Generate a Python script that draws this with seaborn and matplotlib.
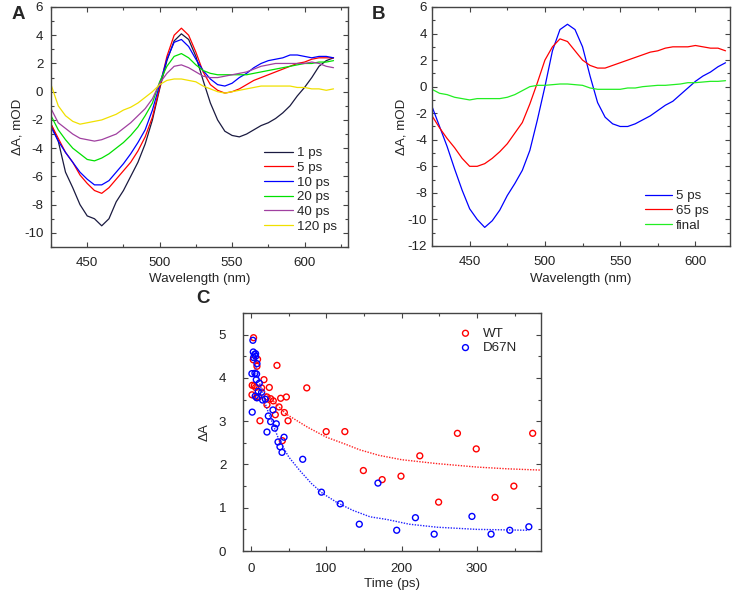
import matplotlib
matplotlib.use('Agg')
import matplotlib.pyplot as plt
from matplotlib.ticker import MultipleLocator
import numpy as np
import seaborn as sns

# wavelength grid (nm)
wl = np.arange(425, 621, 5)

# panel A spectra (mOD)
a_1ps = [-2.3, -3.5, -5.7, -6.8, -8.0, -8.8, -9.0, -9.5, -9.0, -7.8, -7.0, -6.0, -5.0, -3.7, -2.0,
         0.2, 2.2, 3.6, 4.1, 3.7, 2.5, 0.8, -0.8, -2.0, -2.8, -3.1, -3.2, -3.0, -2.7, -2.4,
         -2.2, -1.9, -1.5, -1.0, -0.3, 0.3, 1.0, 1.8, 2.2, 2.4]
a_5ps = [-2.3, -3.3, -4.3, -5.0, -5.9, -6.5, -7.0, -7.2, -6.8, -6.2, -5.6, -5.0, -4.2, -3.2, -1.8,
         0.3, 2.5, 4.0, 4.5, 4.0, 2.8, 1.4, 0.5, 0.1, -0.1, 0.0, 0.2, 0.5, 0.8, 1.0,
         1.2, 1.4, 1.6, 1.8, 2.0, 2.1, 2.3, 2.4, 2.4, 2.4]
a_10ps = [-2.5, -3.5, -4.3, -5.0, -5.7, -6.2, -6.6, -6.6, -6.3, -5.7, -5.1, -4.4, -3.6, -2.7, -1.3,
          0.5, 2.3, 3.5, 3.7, 3.2, 2.3, 1.5, 0.9, 0.5, 0.4, 0.6, 1.0, 1.3, 1.7, 2.0,
          2.2, 2.3, 2.4, 2.6, 2.6, 2.5, 2.4, 2.5, 2.5, 2.4]
a_20ps = [-1.7, -2.7, -3.4, -4.0, -4.4, -4.8, -4.9, -4.7, -4.4, -4.0, -3.6, -3.1, -2.5, -1.7, -0.8,
          0.7, 1.8, 2.5, 2.7, 2.4, 1.9, 1.5, 1.3, 1.2, 1.2, 1.2, 1.2, 1.2, 1.3, 1.4,
          1.5, 1.6, 1.7, 1.8, 1.9, 2.0, 2.0, 2.1, 2.1, 2.2]
a_40ps = [-1.2, -2.2, -2.6, -3.0, -3.3, -3.4, -3.5, -3.4, -3.2, -3.0, -2.6, -2.2, -1.7, -1.2, -0.5,
          0.6, 1.3, 1.8, 1.9, 1.7, 1.4, 1.1, 1.0, 1.0, 1.1, 1.2, 1.3, 1.4, 1.6, 1.8,
          1.9, 2.0, 2.0, 2.0, 2.0, 2.0, 2.1, 2.0, 1.8, 1.7]
a_120ps = [0.5, -1.0, -1.7, -2.1, -2.3, -2.2, -2.1, -2.0, -1.8, -1.6, -1.3, -1.1, -0.8, -0.4, 0.0,
           0.5, 0.8, 0.9, 0.9, 0.8, 0.7, 0.4, 0.2, 0.0, -0.1, 0.0, 0.1, 0.2, 0.3, 0.4,
           0.4, 0.4, 0.4, 0.4, 0.3, 0.3, 0.2, 0.2, 0.1, 0.2]

# panel B spectra (mOD)
b_5ps = [-1.5, -3.0, -4.5, -6.2, -7.8, -9.2, -10.0, -10.6, -10.1, -9.3, -8.2, -7.3, -6.3, -4.8, -2.5,
         0.0, 2.7, 4.3, 4.7, 4.3, 3.0, 0.8, -1.2, -2.3, -2.8, -3.0, -3.0, -2.8, -2.5, -2.2,
         -1.8, -1.4, -1.1, -0.6, -0.1, 0.4, 0.8, 1.1, 1.5, 1.8]
b_65ps = [-2.2, -3.1, -3.9, -4.6, -5.4, -6.0, -6.0, -5.8, -5.4, -4.9, -4.3, -3.5, -2.7, -1.3, 0.3,
          2.0, 3.0, 3.6, 3.4, 2.7, 2.0, 1.6, 1.4, 1.4, 1.6, 1.8, 2.0, 2.2, 2.4, 2.6,
          2.7, 2.9, 3.0, 3.0, 3.0, 3.1, 3.0, 2.9, 2.9, 2.7]
b_final = [-0.2, -0.5, -0.6, -0.8, -0.9, -1.0, -0.9, -0.9, -0.9, -0.9, -0.8, -0.6, -0.3, 0.0, 0.1,
           0.1, 0.15, 0.2, 0.2, 0.15, 0.1, -0.1, -0.2, -0.2, -0.2, -0.2, -0.1, -0.1, 0.0, 0.05,
           0.1, 0.1, 0.15, 0.2, 0.3, 0.3, 0.35, 0.4, 0.4, 0.45]

# panel C kinetics
wt_t = [3.1, 2.7, 8.4, 7.6, 1.3, 4.0, 5.8, 1.0, 7.0, 9.8, 16.9, 13.8, 24.0, 20.9, 25.8, 29.3, 20.9,
        34.2, 39.1, 46.7, 36.9, 32.0, 44.0, 48.9, 11.6, 41.3, 73.8, 99.6, 124.4, 149.0, 174.0,
        199.0, 224.0, 249.0, 274.0, 299.0, 324.0, 349.0, 374.0]
wt_a = [4.93, 4.42, 4.43, 4.27, 3.83, 3.82, 3.78, 3.61, 3.55, 3.56, 3.96, 3.77, 3.78, 3.56, 3.52, 3.47, 3.38,
        4.29, 3.53, 3.56, 3.33, 3.15, 3.20, 3.01, 3.01, 2.55, 3.77, 2.76, 2.76, 1.86, 1.65,
        1.73, 2.20, 1.13, 2.72, 2.36, 1.24, 1.50, 2.72]
mut_t = [2.2, 2.7, 4.4, 5.8, 3.1, 5.8, 7.6, 0.9, 4.9, 7.1, 6.7, 10.7, 5.3, 7.6, 9.3, 13.8, 15.1, 18.7,
         1.3, 28.9, 22.7, 25.8, 33.3, 31.1, 20.9, 43.6, 35.6, 38.2, 40.9, 68.4, 93.3, 118.2,
         143.6, 168.4, 193.3, 218.2, 243.1, 293.3, 318.7, 343.6, 368.9]
mut_a = [4.87, 4.60, 4.54, 4.56, 4.47, 4.50, 4.33, 4.10, 4.11, 4.09, 3.96, 3.88, 3.58, 3.54, 3.69, 3.67, 3.49, 3.51,
         3.21, 3.26, 3.12, 2.99, 2.94, 2.84, 2.75, 2.63, 2.52, 2.41, 2.28, 2.12, 1.36, 1.09,
         0.62, 1.57, 0.48, 0.77, 0.39, 0.80, 0.39, 0.48, 0.56]
# fitted curves
wt_fit_t = [10, 20, 46, 75, 100, 125, 144, 170, 200, 247, 300, 340, 385]
wt_fit_a = [3.85, 3.63, 3.17, 2.86, 2.63, 2.47, 2.34, 2.21, 2.11, 2.02, 1.94, 1.90, 1.87]
mut_fit_t = [3, 10, 20, 37, 50, 64, 80, 95, 115, 135, 158, 180, 210, 247, 300, 367]
mut_fit_a = [4.5, 3.95, 3.33, 2.56, 2.17, 1.87, 1.56, 1.33, 1.11, 0.94, 0.79, 0.73, 0.62, 0.55, 0.50, 0.48]

sns.set_style('ticks')
plt.rcParams['font.family'] = ['Liberation Sans', 'DejaVu Sans']
plt.rcParams['font.size'] = 9.5
plt.rcParams['axes.unicode_minus'] = False
plt.rcParams['axes.edgecolor'] = '#444444'
plt.rcParams['axes.linewidth'] = 1.0
plt.rcParams['xtick.color'] = '#444444'
plt.rcParams['ytick.color'] = '#444444'
plt.rcParams['xtick.labelcolor'] = '#222222'
plt.rcParams['ytick.labelcolor'] = '#222222'

fs = 9.6
fig = plt.figure(figsize=(7.34, 5.93), dpi=100)
ax_a = fig.add_axes([0.0695, 0.5835, 0.4046, 0.4047])
ax_b = fig.add_axes([0.5886, 0.5852, 0.406, 0.403])
ax_c = fig.add_axes([0.331, 0.0708, 0.406, 0.4013])


def style_axis(ax, xpad, ypad):
    ax.tick_params(which='both', direction='in', top=True, right=True, labelsize=fs)
    ax.tick_params(which='major', length=3.5, width=0.8)
    ax.tick_params(which='minor', length=2.2, width=0.8)
    ax.tick_params(axis='x', which='major', pad=xpad)
    ax.tick_params(axis='y', which='major', pad=ypad)
    for s in ax.spines.values():
        s.set_visible(True)


# A
colors_a = ['#1a1a40', '#ff0000', '#0000ff', '#00e000', '#a040a0', '#f0e000']
labels_a = ['1 ps', '5 ps', '10 ps', '20 ps', '40 ps', '120 ps']
for vals, c, lab in zip([a_1ps, a_5ps, a_10ps, a_20ps, a_40ps, a_120ps], colors_a, labels_a):
    sns.lineplot(x=wl, y=vals, color=c, label=lab, lw=0.9, ax=ax_a)
ax_a.set_xlim(425, 630)
ax_a.set_ylim(-11, 6)
ax_a.xaxis.set_major_locator(MultipleLocator(50))
ax_a.xaxis.set_minor_locator(MultipleLocator(25))
ax_a.yaxis.set_major_locator(MultipleLocator(2))
ax_a.yaxis.set_minor_locator(MultipleLocator(1))
ax_a.set_xlabel('Wavelength (nm)', fontsize=fs, labelpad=3)
ax_a.set_ylabel('ΔA, mOD', fontsize=fs, labelpad=0)
style_axis(ax_a, 7, 5.5)
ax_a.legend(loc='lower right', bbox_to_anchor=(0.995, 0.02), frameon=False, fontsize=fs,
            handlelength=2.2, labelspacing=0.18, handletextpad=0.3, borderaxespad=0.3)

# B
colors_b = ['#0000ff', '#ff0000', '#22ee22']
labels_b = ['5 ps', '65 ps', 'final']
for vals, c, lab in zip([b_5ps, b_65ps, b_final], colors_b, labels_b):
    sns.lineplot(x=wl, y=vals, color=c, label=lab, lw=0.9, ax=ax_b)
ax_b.set_xlim(425, 623)
ax_b.set_ylim(-12, 6)
ax_b.xaxis.set_major_locator(MultipleLocator(50))
ax_b.xaxis.set_minor_locator(MultipleLocator(25))
ax_b.yaxis.set_major_locator(MultipleLocator(2))
ax_b.yaxis.set_minor_locator(MultipleLocator(1))
ax_b.set_xlabel('Wavelength (nm)', fontsize=fs, labelpad=3)
ax_b.set_ylabel('ΔA, mOD', fontsize=fs, labelpad=0)
style_axis(ax_b, 7.5, 3.5)
ax_b.legend(loc='lower right', bbox_to_anchor=(0.96, 0.02), frameon=False, fontsize=fs,
            handlelength=2.0, labelspacing=0.18, handletextpad=0.3, borderaxespad=0.3)

# C
sns.lineplot(x=wt_fit_t, y=wt_fit_a, color='#ff2020', lw=1.0, linestyle=(0, (1, 1)), ax=ax_c)
sns.lineplot(x=mut_fit_t, y=mut_fit_a, color='#2020ff', lw=1.0, linestyle=(0, (1, 1)), ax=ax_c)
sns.scatterplot(x=wt_t, y=wt_a, color='red', facecolor='none', edgecolor='red',
                linewidth=1.0, s=18, marker='o', label='WT', ax=ax_c)
sns.scatterplot(x=mut_t, y=mut_a, color='blue', facecolor='none', edgecolor='blue',
                linewidth=1.0, s=18, marker='o', label='D67N', ax=ax_c)
ax_c.set_xlim(-11, 385)
ax_c.set_ylim(0, 5.5)
ax_c.xaxis.set_major_locator(MultipleLocator(100))
ax_c.xaxis.set_minor_locator(MultipleLocator(50))
ax_c.yaxis.set_major_locator(MultipleLocator(1))
ax_c.yaxis.set_minor_locator(MultipleLocator(0.5))
ax_c.set_xlabel('Time (ps)', fontsize=fs, labelpad=2)
ax_c.set_ylabel('ΔA', fontsize=fs, labelpad=6)
style_axis(ax_c, 8.5, 12)
ax_c.legend(loc='upper right', bbox_to_anchor=(0.96, 0.99), frameon=False, fontsize=fs,
            handletextpad=0.3, labelspacing=0.15, borderaxespad=0.5)

fig.text(0.016, 0.975, 'A', fontsize=13.5, fontweight='bold', va='center', ha='left')
fig.text(0.506, 0.975, 'B', fontsize=13.5, fontweight='bold', va='center', ha='left')
fig.text(0.268, 0.497, 'C', fontsize=13.5, fontweight='bold', va='center', ha='left')

fig.savefig('out.png', dpi=100)
